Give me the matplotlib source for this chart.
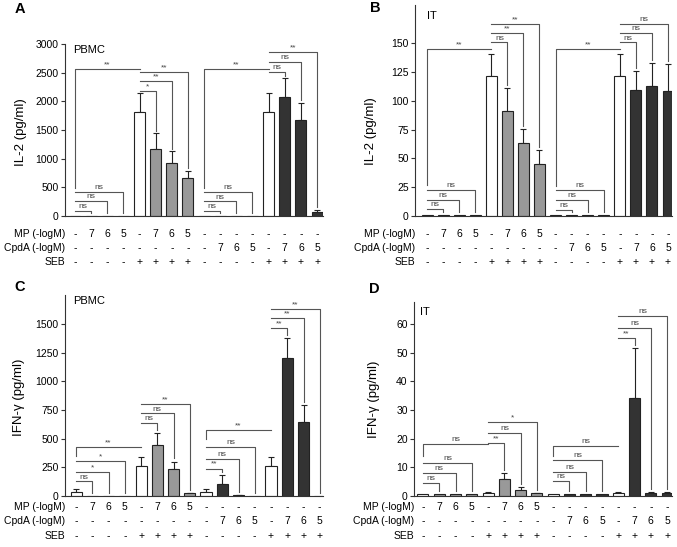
import matplotlib
matplotlib.use('Agg')
import matplotlib.pyplot as plt
import numpy as np
from matplotlib.transforms import blended_transform_factory

plt.rcParams['font.family'] = ['Liberation Sans', 'DejaVu Sans']

W, H = 677, 547

# treatment table printed under every panel
row_names = ['MP (-logM)', 'CpdA (-logM)', 'SEB']
mp_row = ['-', '7', '6', '5', '-', '7', '6', '5', '-', '-', '-', '-', '-', '-', '-', '-']
cpda_row = ['-', '-', '-', '-', '-', '-', '-', '-', '-', '7', '6', '5', '-', '7', '6', '5']
seb_row = ['-', '-', '-', '-', '+', '+', '+', '+', '-', '-', '-', '-', '+', '+', '+', '+']

WHITE, GRAY, BLACK = 'white', '#999999', '#333333'
bar_colors = [WHITE, GRAY, GRAY, GRAY, WHITE, GRAY, GRAY, GRAY,
              WHITE, BLACK, BLACK, BLACK, WHITE, BLACK, BLACK, BLACK]

# A: IL-2, PBMC
il2_pbmc = [0, 0, 0, 0, 1815, 1167, 916, 660, 0, 0, 0, 0, 1815, 2078, 1670, 76]
il2_pbmc_err = [0, 0, 0, 0, 325, 275, 210, 128, 0, 0, 0, 0, 325, 327, 303, 35]
# B: IL-2, IT
il2_it = [0.6, 0.6, 0.6, 0.6, 121.3, 91.2, 63, 45, 0.6, 0.6, 0.6, 0.6, 121.3, 109.2, 113, 108.5]
il2_it_err = [0, 0, 0, 0, 19.4, 19.6, 12.5, 12, 0, 0, 0, 0, 19.4, 16.8, 19.5, 23.5]
# C: IFN-g, PBMC
ifn_pbmc = [32, 2, 0, 0, 262, 443, 233, 22, 32, 102, 8, 0, 265, 1206, 647, 3]
ifn_pbmc_err = [28, 0, 0, 0, 75, 105, 68, 8, 28, 80, 3, 0, 72, 176, 143, 0]
# D: IFN-g, IT
ifn_it = [0.8, 0.8, 0.8, 0.8, 1.2, 5.9, 2.1, 0.9, 0.8, 0.8, 0.8, 0.8, 1.2, 34.3, 1.1, 1.1]
ifn_it_err = [0, 0, 0, 0, 0.2, 2.2, 1.1, 0.1, 0, 0, 0, 0, 0.2, 17.4, 0.2, 0.2]

# significance brackets: (reference bar, compared bar, height, label[, bottom of drop])
br_a = [(0, 1, 88, 'ns'), (0, 2, 263, 'ns'), (0, 3, 426, 'ns'), (4, 0, 2563, '**', 490),
        (4, 5, 2183, '*'), (4, 6, 2358, '**'), (4, 7, 2504, '**'),
        (8, 9, 88, 'ns'), (8, 10, 257, 'ns'), (8, 11, 426, 'ns'), (12, 8, 2563, '**', 490),
        (12, 13, 2520, 'ns'), (12, 14, 2685, 'ns'), (12, 15, 2860, '**')]
br_b = [(0, 1, 6.4, 'ns'), (0, 2, 14.3, 'ns'), (0, 3, 22.4, 'ns'), (4, 0, 144.8, '**', 26.7),
        (4, 5, 150.6, 'ns'), (4, 6, 158.4, '**'), (4, 7, 166.6, '**'),
        (8, 9, 5.6, 'ns'), (8, 10, 14.3, 'ns'), (8, 11, 22.4, 'ns'), (12, 8, 144.8, '**', 26),
        (12, 13, 150.6, 'ns'), (12, 14, 158.7, 'ns'), (12, 15, 166.8, 'ns')]
br_c = [(0, 1, 128, 'ns'), (0, 2, 210, '*'), (0, 3, 303, '*'), (4, 0, 428, '**', 347),
        (4, 5, 638, 'ns'), (4, 6, 720, 'ns'), (4, 7, 799, '**'),
        (8, 9, 239, '**'), (8, 10, 327, 'ns'), (8, 11, 428, 'ns'), (12, 8, 574, '**', 501),
        (12, 13, 1468, '**'), (12, 14, 1550, '**'), (12, 15, 1629, '**')]
br_d = [(0, 1, 4.55, 'ns'), (0, 2, 8.05, 'ns'), (0, 3, 11.6, 'ns'), (4, 0, 18.2, 'ns', 13.8),
        (4, 5, 18.6, '**'), (4, 6, 21.9, 'ns'), (4, 7, 25.8, '*'),
        (8, 9, 5.25, 'ns'), (8, 10, 8.5, 'ns'), (8, 11, 12.6, 'ns'), (12, 8, 17.4, 'ns', 14.1),
        (12, 13, 55.2, '**'), (12, 14, 58.7, 'ns'), (12, 15, 62.9, 'ns')]

fig = plt.figure(figsize=(W / 100, H / 100), dpi=100)
LC = '#555555'


def panel(box, xlim, ylim, yticks, means, errs, brackets, ylabel, ylab_pos,
          letter, letter_xy, tag, tag_xy, rows_y):
    left, top, right, bottom = box  # in pixels
    ax = fig.add_axes([left / W, 1 - bottom / H, (right - left) / W, (bottom - top) / H])
    x = np.arange(16)
    means = np.array(means, float)
    errs = np.array(errs, float)
    ax.bar(x, means, width=0.68, color=bar_colors, edgecolor='#222222', linewidth=0.8, zorder=2)
    m = errs > 0
    ax.errorbar(x[m], means[m], yerr=[np.zeros(m.sum()), errs[m]], fmt='none',
                ecolor='#222222', elinewidth=0.8, capsize=2.5, capthick=0.8, zorder=1)
    ax.set_xlim(*xlim)
    ax.set_ylim(0, ylim)
    ax.set_yticks(yticks)
    ax.set_xticks([])
    for s in ['top', 'right']:
        ax.spines[s].set_visible(False)
    for s in ['left', 'bottom']:
        ax.spines[s].set_linewidth(0.8)
        ax.spines[s].set_color('#333333')
    ax.tick_params(axis='y', length=3, width=0.8, labelsize=7.5, pad=1.5, color='#333333')
    ax.set_ylabel(ylabel, fontsize=9.5)
    ax.yaxis.set_label_coords(*ylab_pos)

    # brackets
    gap = ylim * 0.015
    for br in brackets:
        i, j, h, lab = br[:4]
        low = br[4] if len(br) > 4 else means[j] + errs[j] + gap
        ax.plot([i, j, j], [h, h, low], color=LC, lw=0.8, clip_on=False, zorder=3)
        ax.text((i + j) / 2, h + ylim * 0.004, lab, ha='center', va='bottom',
                fontsize=6, color='#444444', clip_on=False)

    # treatment table
    tr = blended_transform_factory(ax.transData, fig.transFigure)
    tl = blended_transform_factory(ax.transAxes, fig.transFigure)
    for row, name, yy in zip([mp_row, cpda_row, seb_row], row_names, rows_y):
        ax.text(0.0, 1 - yy / H, name, transform=tl, ha='right', va='center', fontsize=7.5)
        for k, s in enumerate(row):
            ax.text(k, 1 - yy / H, s, transform=tr, ha='center', va='center', fontsize=7.5)

    fig.text(letter_xy[0] / W, 1 - letter_xy[1] / H, letter, fontsize=10.5,
             fontweight='bold', ha='center', va='center')
    fig.text(tag_xy[0] / W, 1 - tag_xy[1] / H, tag, fontsize=8, ha='left', va='center')
    return ax


panel((65, 44, 323, 216), (-0.62, 15.37), 3000, range(0, 3001, 500),
      il2_pbmc, il2_pbmc_err, br_a, 'IL-2 (pg/ml)', (-0.147, 0.49),
      'A', (20, 9), 'PBMC', (73, 50), (234, 248, 262))
panel((415, 5, 672, 216), (-0.75, 15.25), 183, range(0, 151, 25),
      il2_it, il2_it_err, br_b, 'IL-2 (pg/ml)', (-0.148, 0.40),
      'B', (375, 8), 'IT', (427, 16), (234, 248, 262))
panel((65, 295, 323, 496), (-0.68, 15.2), 1754, range(0, 1501, 250),
      ifn_pbmc, ifn_pbmc_err, br_c, 'IFN-γ (pg/ml)', (-0.155, 0.49),
      'C', (20, 287), 'PBMC', (73, 301), (507, 521, 536))
panel((414, 302, 672, 496), (-0.55, 15.3), 67.7, range(0, 61, 10),
      ifn_it, ifn_it_err, br_d, 'IFN-γ (pg/ml)', (-0.132, 0.50),
      'D', (374, 289), 'IT', (420, 312), (507, 521, 536))

fig.savefig('out.png', dpi=100)
